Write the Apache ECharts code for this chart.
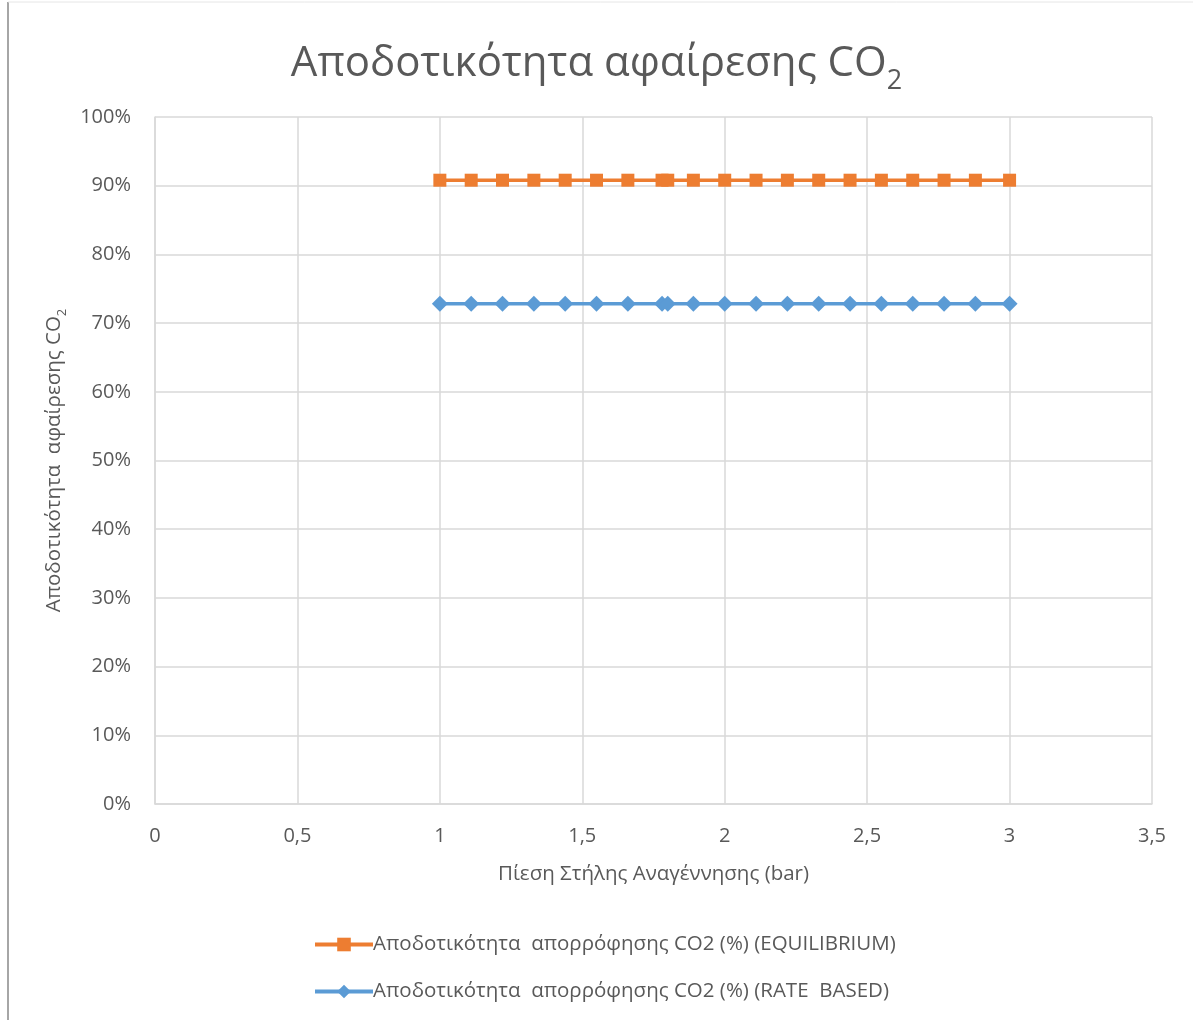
<!DOCTYPE html>
<html>
<head>
<meta charset="utf-8">
<script src="https://cdn.jsdelivr.net/npm/echarts@6/dist/echarts.min.js"></script>
<style>
  html, body { margin: 0; padding: 0; background: #fff; }
  #chart { width: 1193px; height: 1020px; }
</style>
</head>
<body>
<div id="chart"></div>
<script>
// Regeneration column pressure (bar)
const pressure = [1, 1.11, 1.22, 1.33, 1.44, 1.55, 1.66, 1.78, 1.8, 1.89, 2, 2.11, 2.22, 2.33, 2.44, 2.55, 2.66, 2.77, 2.88, 3];
// CO2 absorption efficiency (fraction)
const equilibrium = [0.908, 0.908, 0.908, 0.908, 0.908, 0.908, 0.908, 0.908, 0.908, 0.908, 0.908, 0.908, 0.908, 0.908, 0.908, 0.908, 0.908, 0.908, 0.908, 0.908];
const rateBased = [0.728, 0.728, 0.728, 0.728, 0.728, 0.728, 0.728, 0.728, 0.728, 0.728, 0.728, 0.728, 0.728, 0.728, 0.728, 0.728, 0.728, 0.728, 0.728, 0.728];
const seriesNames = [
  'Αποδοτικότητα  απορρόφησης CO2 (%) (EQUILIBRIUM)',
  'Αποδοτικότητα  απορρόφησης CO2 (%) (RATE  BASED)'
];
const colors = ['#ED7D31', '#5B9BD5'];

const FONT = '"Open Sans", "Noto Sans", sans-serif';
const TEXT = '#595959';
const GRID = '#d9d9d9';

const chart = echarts.init(document.getElementById('chart'), null, { renderer: 'canvas' });

chart.setOption({
  backgroundColor: '#ffffff',
  animation: false,
  title: {
    text: '{t|Αποδοτικότητα αφαίρεσης CO}{s|2}',
    left: 'center',
    top: 24,
    textStyle: {
      fontWeight: 'normal',
      rich: {
        t: { fontFamily: FONT, fontSize: 42, fontWeight: 'normal', color: TEXT, verticalAlign: 'bottom', lineHeight: 56 },
        s: { fontFamily: FONT, fontSize: 27, fontWeight: 'normal', color: TEXT, verticalAlign: 'bottom', lineHeight: 40, padding: [0, 0, -10, 0] }
      }
    }
  },
  grid: { left: 155, right: 41, top: 117, bottom: 216, containLabel: false },
  xAxis: {
    type: 'value',
    min: 0, max: 3.5, interval: 0.5,
    name: 'Πίεση Στήλης Αναγέννησης (bar)',
    nameLocation: 'middle',
    nameGap: 60,
    nameTextStyle: { fontFamily: FONT, fontSize: 20.5, color: TEXT },
    axisLine: { show: true, lineStyle: { color: GRID, width: 1.5 } },
    axisTick: { show: false },
    splitLine: { show: true, lineStyle: { color: GRID, width: 1.5 } },
    axisLabel: {
      fontFamily: FONT, fontSize: 20, color: TEXT, margin: 22,
      formatter: v => String(v).replace('.', ',')
    }
  },
  yAxis: {
    type: 'value',
    min: 0, max: 1, interval: 0.1,
    name: '{t|Αποδοτικότητα  αφαίρεσης CO}{s|2}',
    nameLocation: 'middle',
    nameGap: 82,
    nameRotate: 90,
    nameTextStyle: {
      rich: {
        t: { fontFamily: FONT, fontSize: 20.5, color: TEXT, verticalAlign: 'bottom', lineHeight: 26 },
        s: { fontFamily: FONT, fontSize: 13, color: TEXT, verticalAlign: 'bottom', lineHeight: 17, padding: [0, 0, -5, 0] }
      }
    },
    axisLine: { show: true, lineStyle: { color: GRID, width: 1.5 } },
    axisTick: { show: false },
    splitLine: { show: true, lineStyle: { color: GRID, width: 1.5 } },
    axisLabel: {
      fontFamily: FONT, fontSize: 20, color: TEXT, margin: 24,
      formatter: v => Math.round(v * 100) + '%'
    }
  },
  legend: {
    orient: 'vertical',
    left: 308,
    top: 929,
    itemGap: 26,
    itemWidth: 58,
    itemHeight: 17,
    textStyle: { fontFamily: FONT, fontSize: 20.5, color: TEXT, padding: [0, 0, 0, -5] },
    data: seriesNames.map((n, i) => ({
      name: n,
      lineStyle: { color: colors[i], width: 4 },
      itemStyle: { color: colors[i] }
    }))
  },
  series: [
    {
      name: seriesNames[0],
      type: 'line',
      data: pressure.map((x, i) => [x, equilibrium[i]]),
      symbol: 'rect',
      symbolSize: 13,
      showAllSymbol: true,
      lineStyle: { color: colors[0], width: 3.5 },
      itemStyle: { color: colors[0] },
      z: 3
    },
    {
      name: seriesNames[1],
      type: 'line',
      data: pressure.map((x, i) => [x, rateBased[i]]),
      symbol: 'diamond',
      symbolSize: 16,
      showAllSymbol: true,
      lineStyle: { color: colors[1], width: 3.5 },
      itemStyle: { color: colors[1] },
      z: 3
    }
  ],
  graphic: [
    {
      type: 'line',
      shape: { x1: 8, y1: 2, x2: 8, y2: 1020 },
      style: { stroke: '#a6a6a6', lineWidth: 2 },
      silent: true
    },
    {
      type: 'line',
      shape: { x1: 8, y1: 2, x2: 1193, y2: 2 },
      style: { stroke: '#e6e6e6', lineWidth: 1 },
      silent: true
    }
  ]
});
</script>
</body>
</html>
